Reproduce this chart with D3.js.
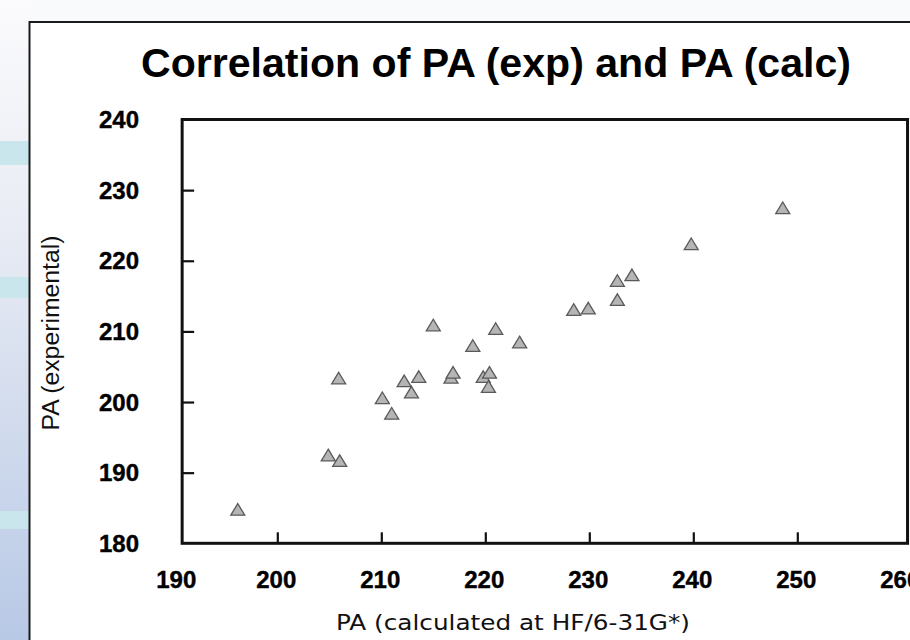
<!DOCTYPE html>
<html>
<head>
<meta charset="utf-8">
<script src="https://cdn.jsdelivr.net/npm/d3@7/dist/d3.min.js"></script>
<style>
  html, body { margin: 0; padding: 0; background: #fff; }
  svg { display: block; }
</style>
</head>
<body>
<svg id="chart" width="910" height="640"></svg>
<script>
// ---- data ----
const title = "Correlation of PA (exp) and PA (calc)";
const xTitle = "PA (calculated at HF/6-31G*)";
const yTitle = "PA (experimental)";
const paCalc = [196.2, 204.9, 206.0, 205.9, 210.1, 211.0, 212.2, 212.9, 213.6, 215.0,
                216.7, 216.9, 218.8, 219.8, 220.4, 220.3, 221.0, 223.3, 228.5, 229.9,
                232.7, 232.7, 234.1, 239.8, 248.6];
const paExp  = [184.8, 192.5, 191.7, 203.4, 200.6, 198.4, 203.0, 201.4, 203.6, 210.9,
                203.5, 204.2, 208.0, 203.6, 204.2, 202.2, 210.4, 208.5, 213.1, 213.3,
                214.5, 217.2, 218.0, 222.4, 227.5];
const xTickValues = [190, 200, 210, 220, 230, 240, 250, 260];
const yTickValues = [180, 190, 200, 210, 220, 230, 240];
const xFrame = [190.85, 260.6];
const yFrame = [180, 240];

const svg = d3.select("#chart");
const W = 910, H = 640;

// ---- slide background ----
const defs = svg.append("defs");
const g1 = defs.append("linearGradient").attr("id", "strip").attr("x1", 0).attr("y1", 0).attr("x2", 0).attr("y2", 1);
g1.append("stop").attr("offset", "0%").attr("stop-color", "#fbfbfd");
g1.append("stop").attr("offset", "35%").attr("stop-color", "#e9ecf4");
g1.append("stop").attr("offset", "100%").attr("stop-color", "#b8c9e6");

svg.append("rect").attr("x", 0).attr("y", 0).attr("width", W).attr("height", H).attr("fill", "#f9fafc");
svg.append("rect").attr("x", 0).attr("y", 0).attr("width", 30).attr("height", H).attr("fill", "url(#strip)");
[[141, 24], [277, 21], [511, 18]].forEach(([y, h]) => {
  svg.append("rect").attr("x", 0).attr("y", y).attr("width", 29).attr("height", h).attr("fill", "#c8e6ec");
});

// white panel
svg.append("rect").attr("x", 29.5).attr("y", 22).attr("width", W).attr("height", H)
  .attr("fill", "#ffffff").attr("stroke", "#1a1a1a").attr("stroke-width", 2);

// ---- scales ----
const x = d3.scaleLinear().domain([190, 260]).range([173.3, 901.3]);
const y = d3.scaleLinear().domain([180, 240]).range([543.3, 119.5]);

const fx0 = x(xFrame[0]), fx1 = x(xFrame[1]);
const fy0 = y(yFrame[1]), fy1 = y(yFrame[0]);

// title
svg.append("text")
  .attr("x", 496).attr("y", 77)
  .attr("text-anchor", "middle")
  .attr("font-family", "'Liberation Sans', Arial, sans-serif")
  .attr("font-weight", "bold")
  .attr("font-size", 41)
  .attr("textLength", 710)
  .attr("lengthAdjust", "spacingAndGlyphs")
  .attr("fill", "#000")
  .text(title);

// ---- axes (ticks inward) ----
const yAxis = d3.axisRight(y).tickValues(yTickValues.filter(v => v > 180 && v < 240)).tickSize(12).tickFormat("");
const ga = svg.append("g").attr("transform", `translate(${fx0},0)`).call(yAxis);
ga.select(".domain").remove();
ga.selectAll(".tick line").attr("stroke", "#111").attr("stroke-width", 2.2);

const xAxis = d3.axisTop(x).tickValues(xTickValues.filter(v => v > 190 && v < 260)).tickSize(11).tickFormat("");
const gx = svg.append("g").attr("transform", `translate(0,${fy1})`).call(xAxis);
gx.select(".domain").remove();
gx.selectAll(".tick line").attr("stroke", "#111").attr("stroke-width", 2.2);

// frame
svg.append("rect")
  .attr("x", fx0).attr("y", fy0).attr("width", fx1 - fx0).attr("height", fy1 - fy0)
  .attr("fill", "none").attr("stroke", "#111").attr("stroke-width", 3);

// tick labels
svg.append("g").selectAll("text").data(yTickValues).join("text")
  .attr("x", 139).attr("y", d => y(d) + 8.5)
  .attr("text-anchor", "end")
  .attr("font-family", "'Liberation Sans', Arial, sans-serif")
  .attr("font-weight", "bold").attr("font-size", 24)
  .attr("stroke", "#000").attr("stroke-width", 0.4)
  .attr("fill", "#000")
  .text(d => d);

svg.append("g").selectAll("text").data(xTickValues).join("text")
  .attr("x", d => x(d) + (d === 190 ? 3 : -1)).attr("y", 588)
  .attr("text-anchor", "middle")
  .attr("font-family", "'Liberation Sans', Arial, sans-serif")
  .attr("font-weight", "bold").attr("font-size", 24)
  .attr("stroke", "#000").attr("stroke-width", 0.4)
  .attr("fill", "#000")
  .text(d => d);

// axis titles
svg.append("text")
  .attr("x", 513).attr("y", 630)
  .attr("text-anchor", "middle")
  .attr("font-family", "'DejaVu Sans', 'Liberation Sans', sans-serif")
  .attr("font-size", 21)
  .attr("textLength", 354).attr("lengthAdjust", "spacingAndGlyphs")
  .attr("fill", "#111")
  .text(xTitle);

svg.append("text")
  .attr("transform", "translate(59,333) rotate(-90)")
  .attr("text-anchor", "middle")
  .attr("font-family", "'Liberation Sans', Arial, sans-serif")
  .attr("font-size", 23)
  .attr("textLength", 195).attr("lengthAdjust", "spacingAndGlyphs")
  .attr("fill", "#111")
  .text(yTitle);

// ---- points (triangles) ----
const pts = paCalc.map((v, i) => ({ xv: v, yv: paExp[i] }));
const tri = "M0,-5.8L7,5.8L-7,5.8Z";
svg.append("g").selectAll("path").data(pts).join("path")
  .attr("d", tri)
  .attr("transform", d => `translate(${x(d.xv)},${y(d.yv)})`)
  .attr("fill", "#b5b5b5")
  .attr("stroke", "#5a5a5a")
  .attr("stroke-width", 1.3)
  .attr("stroke-linejoin", "miter");
</script>
</body>
</html>
